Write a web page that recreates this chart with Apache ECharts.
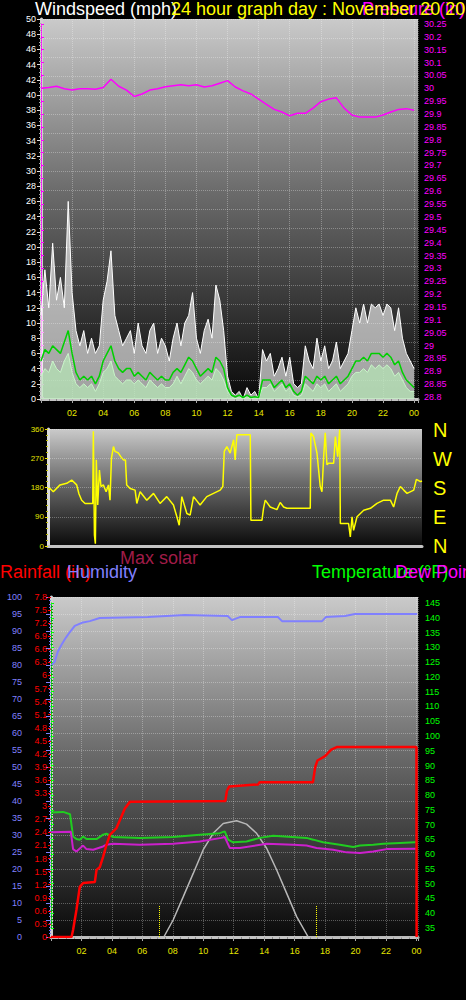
<!DOCTYPE html>
<html>
<head>
<meta charset="utf-8">
<script src="https://cdn.jsdelivr.net/npm/echarts@6/dist/echarts.min.js"></script>
<style>
  html, body { margin: 0; padding: 0; background: #000; }
  #chart { width: 466px; height: 1000px; }
</style>
</head>
<body>
<div id="chart"></div>
<script>
// wind (mph), one value every 15 minutes from 00:00
const windGust = [
  11, 17, 12, 20.5, 13, 16, 12, 26,
  14, 9, 7, 9, 6, 8, 6, 7,
  13, 15.5, 19.5, 11, 9, 7, 8, 9,
  6, 10, 7, 6, 9, 10, 6, 8,
  7, 5, 8, 10, 7, 10, 11, 14,
  8, 6, 9, 10.5, 8, 15, 13, 9,
  3, 1, 0.5, 1, 0, 1.5, 0.5, 1,
  0, 6.5, 5, 6, 3, 4, 5.5, 3,
  5.5, 2, 1.5, 2, 7, 5, 4, 8,
  5, 7, 4, 5, 7.5, 4, 5, 6,
  9, 12, 10, 12.5, 10, 12.5, 12, 12.5,
  11, 12.5, 12, 9, 12, 8, 6, 5,
  4
];
const windAvg = [
  5, 6.5, 6, 7, 6.5, 6, 7.5, 9,
  6, 3.5, 2.5, 3, 2.5, 3, 2, 3,
  5, 6, 7, 5, 4, 3.5, 4, 4,
  3, 3.5, 3, 2.5, 3.5, 3, 2.5, 3,
  2.5, 2.5, 3.5, 4, 3.5, 4.5, 5.5, 5,
  4, 3, 3.5, 4, 3.5, 5.5, 5, 4,
  1.5, 0.5, 0.3, 0.5, 0.2, 0.5, 0.2, 0.3,
  0.2, 2.5, 2.5, 2.5, 1.5, 2, 2.5, 1.5,
  2, 1, 0.5, 1, 3, 2.5, 2, 3,
  2.5, 3, 2, 2.5, 3, 2, 2.5, 3,
  4, 5, 5, 5.5, 5, 6, 6, 6,
  5.5, 6, 5.5, 4.5, 5, 3.5, 2.5, 2,
  1.5
];
const windSpeed = [
  3, 4, 3.5, 5, 4, 3.5, 5, 6,
  3.5, 2, 1.5, 2, 1.5, 2, 1, 2,
  3.5, 4, 5, 3, 2.5, 2, 2.5, 2.5,
  2, 2.5, 2, 1.5, 2.5, 2, 1.5, 2,
  1.5, 1.5, 2, 3, 2, 3, 4, 3.5,
  2.5, 2, 2.5, 3, 2.5, 4, 3.5, 2.5,
  1, 0.3, 0, 0.3, 0, 0.3, 0, 0.2,
  0, 1.5, 1.5, 2, 1, 1.5, 2, 1,
  1.5, 0.5, 0.3, 0.5, 2, 1.5, 1, 2,
  1.5, 2, 1, 1.5, 2, 1, 1.5, 2,
  3, 3.5, 3.5, 4, 3.5, 4.5, 4, 4.5,
  4, 4.5, 4, 3, 3.5, 2.5, 1.5, 1,
  1
];
// pressure (in), one value every 30 minutes
const pressure = [
  30.0, 30.003, 30.008, 29.998, 29.993, 29.998, 29.998, 29.996,
  30.003, 30.035, 30.008, 29.993, 29.968, 29.978, 29.993, 29.998,
  30.006, 30.01, 30.014, 30.01, 30.014, 30.005, 30.01, 30.02,
  30.03, 30.005, 29.99, 29.978, 29.958, 29.938, 29.918, 29.908,
  29.893, 29.903, 29.903, 29.923, 29.948, 29.958, 29.963, 29.923,
  29.896, 29.888, 29.888, 29.888, 29.896, 29.908, 29.918, 29.921,
  29.915
];
// wind direction (degrees)
const dirHours = [
  0, 0.13, 0.34, 0.77, 1.2, 1.52, 1.84, 1.99, 2.16, 2.38,
  2.87, 2.91, 2.98, 3.04, 3.1, 3.19, 3.3, 3.4, 3.55, 3.73,
  3.88, 3.98, 4.07, 4.2, 4.3, 4.52, 4.67, 4.84, 4.97, 5.05,
  5.27, 5.59, 5.7, 5.91, 6.34, 6.77, 7.19, 7.62, 8.05, 8.27,
  8.42, 8.59, 8.91, 9.12, 9.34, 9.76, 10.19, 10.62, 11.05, 11.22,
  11.31, 11.48, 11.69, 11.91, 12.01, 12.12, 12.98, 13.02, 13.73, 13.83,
  13.94, 14.26, 14.69, 14.9, 15.12, 15.33, 16.83, 16.87, 17.04, 17.26,
  17.47, 17.58, 17.69, 17.79, 17.9, 18.01, 18.33, 18.44, 18.59, 18.72,
  18.76, 19.29, 19.4, 19.51, 19.61, 19.83, 20.26, 20.69, 21.11, 21.54,
  21.97, 22.18, 22.4, 22.61, 22.83, 23.04, 23.47, 23.64, 23.9, 24
];
const dirDeg = [
  175, 177, 167, 188, 193, 203, 188, 160, 141, 131,
  131, 353, 33, 7, 265, 126, 234, 183, 188, 167,
  188, 141, 270, 306, 291, 286, 275, 265, 265, 188,
  177, 172, 131, 167, 141, 162, 131, 152, 126, 90,
  64, 152, 100, 95, 152, 126, 152, 162, 172, 183,
  291, 306, 286, 327, 265, 342, 342, 79, 79, 116,
  141, 120, 112, 134, 120, 116, 116, 348, 337, 286,
  183, 167, 275, 348, 250, 255, 255, 337, 275, 358,
  69, 69, 28, 90, 48, 90, 110, 116, 131, 141,
  141, 120, 162, 183, 172, 162, 172, 205, 198, 200
];
// humidity (%)
const humHours = [0.05, 0.25, 0.45, 0.7, 0.97, 1.24, 1.56, 2.02, 2.55, 3.2, 6.36, 8.79, 11.6, 11.88, 12.4, 14.9, 15.17, 17.8, 18.05, 19.3, 19.96, 24.05];
const humidity = [80, 81, 84, 86, 88, 89.7, 91.5, 92.4, 92.9, 93.8, 94.1, 94.7, 94.4, 93.2, 94.1, 94.1, 92.9, 92.9, 94.1, 94.4, 95, 95];
// rainfall (in)
const rainHours = [0, 1.35, 1.45, 1.67, 1.89, 2.11, 2.88, 2.99, 3.2, 3.42, 3.64, 3.86, 4.3, 4.52, 4.85, 5.18, 11.45, 11.55, 11.7, 13.6, 13.7, 17.2, 17.35, 17.5, 18.0, 18.4, 18.8, 24.0, 24.01];
const rainfall = [0, 0, 0.16, 0.62, 1.15, 1.24, 1.26, 1.54, 1.6, 1.84, 2.11, 2.34, 2.5, 2.68, 2.95, 3.1, 3.12, 3.35, 3.45, 3.5, 3.55, 3.55, 3.9, 4.05, 4.15, 4.3, 4.36, 4.36, 0];
// temperature and dew point (°F)
const tempHours = [0, 0.8, 1.25, 1.45, 1.67, 1.89, 2.11, 2.33, 2.99, 3.42, 3.64, 4.08, 5.83, 8.02, 9.77, 11.08, 11.41, 11.63, 11.96, 12.84, 13.71, 14.59, 16.78, 17.22, 17.87, 18.97, 19.85, 20.29, 21.16, 21.82, 22.92, 23.9, 24.05];
const temperature = [74.1, 74.3, 73.5, 66.0, 65.1, 64.9, 66.0, 65.1, 65.1, 66.6, 66.9, 65.8, 65.5, 65.8, 66.6, 67.1, 67.7, 64.9, 64.0, 64.3, 65.5, 66.2, 65.5, 64.9, 64.0, 63.2, 62.4, 62.9, 63.2, 63.5, 63.8, 64.0, 64.0];
const dewHours = [0, 1.3, 1.45, 1.67, 2.11, 2.33, 2.77, 3.42, 3.64, 4.08, 5.83, 8.02, 9.77, 11.19, 11.41, 11.74, 12.4, 14.16, 15.91, 16.78, 17.44, 18.53, 19.41, 20.29, 21.16, 22.04, 23.9, 24.05];
const dewPoint = [67.4, 67.6, 61.7, 60.9, 62.9, 61.7, 61.5, 62.6, 63.2, 63.5, 63.2, 63.5, 64.3, 65.5, 65.8, 62.1, 62.1, 63.5, 63.2, 62.9, 62.1, 61.5, 60.6, 60.4, 60.9, 61.7, 61.8, 61.8];
// max solar (W/m2) and sunrise / sunset
const solarHours = [0, 7.41, 8.02, 8.68, 9.34, 9.99, 10.65, 11.31, 12.19, 12.84, 13.5, 14.16, 14.82, 15.47, 16.13, 16.89, 24.1];
const solar = [0, 0, 50, 118, 187, 256, 305, 334, 342, 332, 305, 261, 197, 129, 60, 0, 0];
const sunHours = [7.09, 17.4];
const sunMarkHeight = 91;

const pairs = (xs, ys) => xs.map((x, i) => [x, ys[i]]);
const every = (step, ys) => ys.map((y, i) => [i * step, y]);
const hourLabel = v => (v === 0 || v % 2 !== 0) ? '' : String(v % 24).padStart(2, '0');
const dotted = { color: 'rgba(255,255,255,0.3)', type: 'dotted', width: 1 };
const font = 'Liberation Sans, Arial, sans-serif';
const grad = () => new echarts.graphic.LinearGradient(0, 0, 0, 1, [
  { offset: 0, color: '#cacaca' },
  { offset: 0.45, color: '#6c6c6c' },
  { offset: 1, color: '#0a0a0a' }
]);

const chart = echarts.init(document.getElementById('chart'), null, { renderer: 'svg' });

const title = (text, left, top, color) => ({
  text, left, top, padding: 0,
  textStyle: { color, fontSize: 18, fontWeight: 'normal', fontFamily: font }
});

const option = {
  backgroundColor: '#000',
  animation: false,
  title: [
    title('Windspeed (mph)', 35, 0, '#ffffff'),
    title('Pressure (in)', 362, 0, '#ff00ff'),
    title('24 hour graph day : November 20 2013', 171, 0, '#ffff00'),
    {
      text: 'N\nW\nS\nE\nN', left: 433, top: 415, padding: 0,
      textStyle: { color: '#ffff00', fontSize: 20, lineHeight: 29, fontWeight: 'normal', fontFamily: font }
    },
    title('Max solar', 120, 549, '#a01c48'),
    title('Rainfall (in)', 0, 563, '#ff0000'),
    title('Humidity', 67, 563, '#8080ff'),
    title('Temperature (°F)', 312, 563, '#00ff00'),
    title('Dew Point (°F)', 395, 563, '#ff00ff')
  ],
  grid: [
    { left: 41, top: 19, width: 377, height: 380, show: true, backgroundColor: grad(), borderWidth: 0 },
    { left: 41, top: 24, width: 377, height: 373, show: false },
    { left: 48, top: 429, width: 374, height: 117, show: true, backgroundColor: grad(), borderWidth: 0 },
    { left: 51, top: 597, width: 367, height: 340, show: true, backgroundColor: grad(), borderWidth: 0 },
    { left: 51, top: 603, width: 367, height: 325, show: false }
  ],
  xAxis: [
    {
      gridIndex: 0, type: 'value', min: 0, max: 24.25, interval: 2,
      axisLine: { lineStyle: { color: '#c4c4c4', width: 3 } },
      axisTick: { length: 4, lineStyle: { color: '#aaa' } },
      minorTick: { show: true, splitNumber: 4, length: 2, lineStyle: { color: '#888' } },
      axisLabel: { color: '#e6e600', fontSize: 9, margin: 9, fontFamily: font, formatter: hourLabel },
      splitLine: { show: true, lineStyle: dotted }
    },
    { gridIndex: 1, type: 'value', min: 0, max: 24.25, show: false },
    {
      gridIndex: 2, type: 'value', min: 0, max: 24, interval: 2,
      axisLine: { lineStyle: { color: '#c4c4c4', width: 3 } },
      axisTick: { show: false }, axisLabel: { show: false },
      splitLine: { show: false }
    },
    {
      gridIndex: 3, type: 'value', min: 0, max: 24.1, interval: 2,
      axisLine: { lineStyle: { color: '#c4c4c4', width: 3 } },
      axisTick: { length: 4, lineStyle: { color: '#aaa' } },
      minorTick: { show: true, splitNumber: 4, length: 2, lineStyle: { color: '#888' } },
      axisLabel: { color: '#e6e600', fontSize: 9, margin: 9, fontFamily: font, formatter: hourLabel },
      splitLine: { show: true, lineStyle: dotted }
    },
    { gridIndex: 4, type: 'value', min: 0, max: 24.1, show: false }
  ],
  yAxis: [
    { // 0 windspeed
      gridIndex: 0, type: 'value', min: 0, max: 50, interval: 2, position: 'left',
      axisLine: { show: true, lineStyle: { color: '#d0d0d0', width: 3 } },
      axisTick: { show: true, length: 4, lineStyle: { color: '#ddd' } },
      minorTick: { show: true, splitNumber: 4, length: 2, lineStyle: { color: '#aaa' } },
      axisLabel: { color: '#ffffff', fontSize: 9, margin: 5, fontFamily: font },
      splitLine: { show: false }
    },
    { // 1 grid helper
      gridIndex: 0, type: 'value', min: 0, max: 20, interval: 1, position: 'right',
      axisLine: { show: false }, axisTick: { show: false }, axisLabel: { show: false },
      splitLine: { show: true, lineStyle: dotted }
    },
    { // 2 pressure
      gridIndex: 1, type: 'value', min: 28.8, max: 30.25, interval: 0.05, position: 'right', offset: 2,
      axisLine: { show: true, lineStyle: { color: '#ff00ff', type: 'dotted', width: 1 } },
      axisTick: { show: true, length: 3, lineStyle: { color: '#ff00ff' } },
      axisLabel: { color: '#ff00ff', fontSize: 9, margin: 4, fontFamily: font, formatter: v => +v.toFixed(2) },
      splitLine: { show: false }
    },
    { // 3 wind direction
      gridIndex: 2, type: 'value', min: 0, max: 360, interval: 90, position: 'left',
      axisLine: { show: true, lineStyle: { color: '#dcdcdc', width: 3 } },
      axisTick: { show: true, length: 3, lineStyle: { color: '#e6e600' } },
      minorTick: { show: true, splitNumber: 5, length: 2, lineStyle: { color: '#bbbb00' } },
      axisLabel: { color: '#e6e600', fontSize: 8, margin: 4, fontFamily: font },
      splitLine: { show: true, lineStyle: dotted }
    },
    { // 4 humidity
      gridIndex: 3, type: 'value', min: 0, max: 100, interval: 5, position: 'left', offset: 21,
      axisLine: { show: true, lineStyle: { color: '#6a6aff', width: 2 } },
      axisTick: { show: true, length: 5, lineStyle: { color: '#8080ff' } },
      minorTick: { show: true, splitNumber: 5, length: 2, lineStyle: { color: '#6a6aff' } },
      axisLabel: { color: '#8080ff', fontSize: 9, margin: 8, fontFamily: font },
      splitLine: { show: true, lineStyle: dotted }
    },
    { // 5 rainfall
      gridIndex: 3, type: 'value', min: 0, max: 7.8, interval: 0.3, position: 'left',
      axisLine: { show: true, lineStyle: { color: '#d0d0d0', width: 3 } },
      axisTick: { show: true, length: 3, lineStyle: { color: '#ff0000' } },
      axisLabel: { color: '#ff0000', fontSize: 9, margin: 4, fontFamily: font, formatter: v => +v.toFixed(1) },
      splitLine: { show: false }
    },
    { gridIndex: 3, type: 'value', min: 0, max: 1000, show: false }, // 6 solar
    { // 7 temperature
      gridIndex: 4, type: 'value', min: 35, max: 145, interval: 5, position: 'right', offset: 2,
      axisLine: { show: true, lineStyle: { color: '#00cc00', type: 'dotted', width: 1 } },
      axisTick: { show: true, length: 3, lineStyle: { color: '#00ff00' } },
      minorTick: { show: true, splitNumber: 5, length: 2, lineStyle: { color: '#00aa00' } },
      axisLabel: { color: '#00ff00', fontSize: 9, margin: 5, fontFamily: font },
      splitLine: { show: false }
    }
  ],
  series: [
    {
      name: 'Gust', type: 'line', xAxisIndex: 0, yAxisIndex: 0, showSymbol: false,
      data: every(0.25, windGust),
      lineStyle: { color: '#ffffff', width: 1 },
      areaStyle: { color: 'rgba(255,255,255,0.88)' }
    },
    {
      name: 'Speed', type: 'line', xAxisIndex: 0, yAxisIndex: 0, showSymbol: false,
      data: every(0.25, windSpeed),
      lineStyle: { color: '#c8f5c8', width: 1 },
      areaStyle: { color: '#b6e8b6' }
    },
    {
      name: 'Average', type: 'line', xAxisIndex: 0, yAxisIndex: 0, showSymbol: false,
      data: every(0.25, windAvg),
      lineStyle: { color: '#00d000', width: 1.5 }
    },
    {
      name: 'Pressure', type: 'line', xAxisIndex: 1, yAxisIndex: 2, showSymbol: false,
      data: every(0.5, pressure),
      lineStyle: { color: '#ff00ff', width: 1.5 }
    },
    {
      name: 'Direction', type: 'line', xAxisIndex: 2, yAxisIndex: 3, showSymbol: false,
      data: pairs(dirHours, dirDeg),
      lineStyle: { color: '#ffff00', width: 1.5 }
    },
    {
      name: 'Max solar', type: 'line', xAxisIndex: 3, yAxisIndex: 6, showSymbol: false,
      data: pairs(solarHours, solar),
      lineStyle: { color: '#b8b8b8', width: 1.5 },
      markLine: {
        silent: true, symbol: 'none', label: { show: false },
        lineStyle: { color: '#ffff00', type: 'dotted', width: 1 },
        data: sunHours.map(h => [{ coord: [h, 0] }, { coord: [h, sunMarkHeight] }])
      }
    },
    {
      name: 'Humidity', type: 'line', xAxisIndex: 3, yAxisIndex: 4, showSymbol: false,
      data: pairs(humHours, humidity),
      lineStyle: { color: '#8080ff', width: 2 }
    },
    {
      name: 'Temperature', type: 'line', xAxisIndex: 4, yAxisIndex: 7, showSymbol: false,
      data: pairs(tempHours, temperature),
      lineStyle: { color: '#20cc20', width: 2 }
    },
    {
      name: 'Dew Point', type: 'line', xAxisIndex: 4, yAxisIndex: 7, showSymbol: false,
      data: pairs(dewHours, dewPoint),
      lineStyle: { color: '#cc20cc', width: 2 }
    },
    {
      name: 'Rainfall', type: 'line', xAxisIndex: 3, yAxisIndex: 5, showSymbol: false,
      data: pairs(rainHours, rainfall),
      lineStyle: { color: '#ff0000', width: 2.5 }
    }
  ]
};

chart.setOption(option);
</script>
</body>
</html>
